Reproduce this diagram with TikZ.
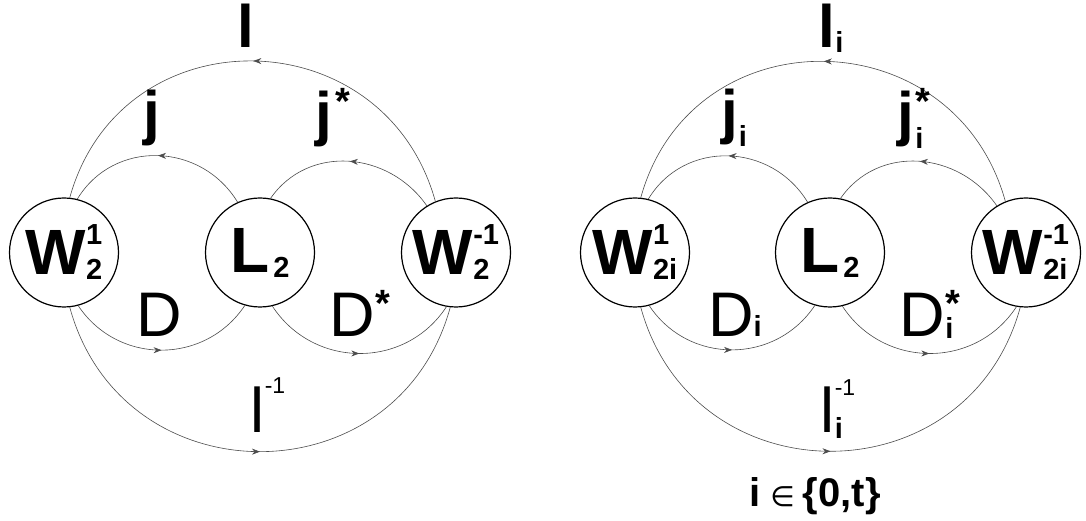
\documentclass[tikz,border=0pt]{standalone}
\usepackage{fontspec}
\setmainfont{Liberation Sans}
\newfontfamily\symbfont{DejaVu Sans}
\usetikzlibrary{arrows.meta, decorations.markings}

% fonts
\newcommand{\nodefont}{\fontsize{64}{64}\selectfont\bfseries}
\newcommand{\labfont}{\fontsize{60}{60}\selectfont\bfseries}
\newcommand{\thinfont}{\fontsize{63}{63}\selectfont\mdseries}
\newcommand{\idxfont}{\fontsize{29}{29}\selectfont\bfseries}
\newcommand{\supfont}{\fontsize{23}{23}\selectfont\mdseries}
% upper and lower index, left aligned
\newcommand{\stackidx}[2]{{\setbox0\hbox{#1}\setbox2\hbox{#2}%
  \ifdim\wd0>\wd2 \rlap{\box2}\box0\else\rlap{\box0}\box2\fi}}
\newcommand{\starmark}{\raisebox{20pt}{\fontsize{38}{38}\selectfont\bfseries *}}
\newcommand{\nodeidx}[2]{\stackidx{\raisebox{30pt}{\idxfont #1}}{\raisebox{-5pt}{\idxfont #2}}}

\begin{document}
\begin{tikzpicture}[x=1pt, y=1pt,
    knot/.style={circle, draw, line width=1.2pt, minimum size=109pt, inner sep=0pt},
    arc/.style={draw=black!70, line width=0.6pt, postaction={decorate},
      decoration={markings, mark=at position 0.5 with {\arrow{Stealth[length=8pt, width=6pt]}}}},
    lab/.style={anchor=base, inner sep=0pt}]
  \useasboundingbox (0,0) rectangle (1086,521);

  % left diagram
  \node[knot] (w1) at (64,268.5) {\nodefont W\nodeidx{1}{2}};
  \node[knot] (l2) at (260,268.5) {\nodefont L\kern4pt\raisebox{-5pt}{\idxfont 2}};
  \node[knot] (w3) at (456,268.5) {\nodefont W\nodeidx{-1}{2}};

  \draw[arc] (w3.112) to[out=105.5, in=74.5, looseness=1.34] (w1.84);
  \draw[arc] (l2.114) to[out=121.3, in=58.7, looseness=1.12] (w1.76);
  \draw[arc] (w3.122) to[out=124.8, in=55.2, looseness=1.085] (l2.79);
  \draw[arc] (w1.285) to[out=-56.3, in=-123.7, looseness=1.1] (l2.254);
  \draw[arc] (l2.283) to[out=-56.8, in=-123.2, looseness=1.1] (w3.260);
  \draw[arc] (w1.276) to[out=-74.7, in=-105.3, looseness=1.345] (w3.264);

  \node[lab] (tl) at (246,473) {\labfont l};
  \node[lab] (tj) at (152,387) {\labfont j};
  \node[lab] (tjs) at (333,386) {\labfont j\kern3pt\starmark};
  \node[lab] (td) at (159,184) {\thinfont D};
  \node[lab] (tds) at (360,184) {\thinfont D\starmark};
  \node[lab] (tli) at (268,88) {\thinfont l\raisebox{39pt}{\supfont -1}};

  % right diagram
  \node[knot] (v1) at (635,268.5) {\nodefont W\nodeidx{1}{2i}};
  \node[knot] (m2) at (830,268.5) {\nodefont L\kern4pt\raisebox{-5pt}{\idxfont 2}};
  \node[knot] (v3) at (1026,268.5) {\nodefont W\nodeidx{-1}{2i}};

  \draw[arc] (v3.112) to[out=105.5, in=74.5, looseness=1.34] (v1.84);
  \draw[arc] (m2.114) to[out=121.3, in=58.7, looseness=1.12] (v1.76);
  \draw[arc] (v3.122) to[out=124.8, in=55.2, looseness=1.085] (m2.79);
  \draw[arc] (v1.285) to[out=-56.3, in=-123.7, looseness=1.1] (m2.254);
  \draw[arc] (m2.283) to[out=-56.8, in=-123.2, looseness=1.1] (v3.260);
  \draw[arc] (v1.276) to[out=-74.7, in=-105.3, looseness=1.345] (v3.264);

  \node[lab] (ul) at (831,473) {\labfont l\raisebox{-5pt}{\idxfont i}};
  \node[lab] (uj) at (734,388) {\labfont j\kern1pt\raisebox{-14pt}{\idxfont i}};
  \node[lab] (ujs) at (914,386) {\labfont j\kern1pt\stackidx{\starmark}{\raisebox{-14pt}{\idxfont i}}};
  \node[lab] (ud) at (735,184) {\thinfont D{\idxfont i}};
  \node[lab] (uds) at (930,184) {\thinfont D\stackidx{\starmark}{\raisebox{-2pt}{\idxfont i}}};
  \node[lab] (uli) at (838,88) {\thinfont l\stackidx{\raisebox{37pt}{\supfont -1}}{\raisebox{-6pt}{\idxfont i}}};

  \node[lab] (set) at (815,14) {\fontsize{40}{40}\selectfont\bfseries i\kern10pt{\mdseries\fontsize{28}{28}\selectfont\symbfont ∈}\kern8pt\{0,t\}};
\end{tikzpicture}
\end{document}
